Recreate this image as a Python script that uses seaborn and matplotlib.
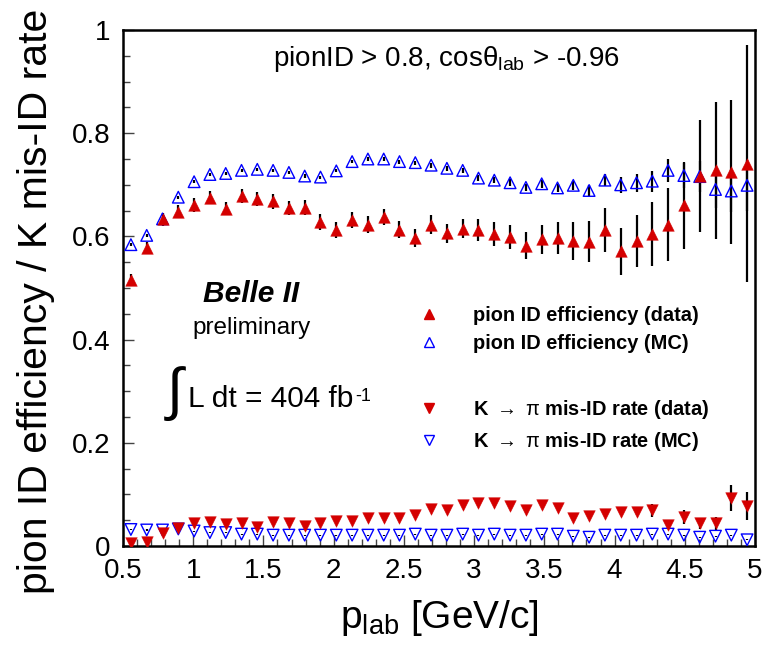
import numpy as np
import pandas as pd
import matplotlib
matplotlib.use("Agg")
import matplotlib.pyplot as plt
import seaborn as sns
from matplotlib.lines import Line2D
from matplotlib.ticker import MultipleLocator

# ---------------- data ----------------
p_lab = [0.55625, 0.66875, 0.78125, 0.89375, 1.00625, 1.11875, 1.23125, 1.34375,
         1.45625, 1.56875, 1.68125, 1.79375, 1.90625, 2.01875, 2.13125, 2.24375,
         2.35625, 2.46875, 2.58125, 2.69375, 2.80625, 2.91875, 3.03125, 3.14375,
         3.25625, 3.36875, 3.48125, 3.59375, 3.70625, 3.81875, 3.93125, 4.04375,
         4.15625, 4.26875, 4.38125, 4.49375, 4.60625, 4.71875, 4.83125, 4.94375]

eff_data = [0.516, 0.578, 0.633, 0.648, 0.661, 0.675, 0.654, 0.678, 0.672, 0.668,
            0.655, 0.656, 0.628, 0.612, 0.632, 0.623, 0.638, 0.613, 0.597, 0.623,
            0.606, 0.615, 0.612, 0.604, 0.599, 0.582, 0.594, 0.597, 0.591, 0.590,
            0.612, 0.571, 0.591, 0.604, 0.623, 0.660, 0.717, 0.728, 0.725, 0.741]
eff_data_err = [0.012, 0.012, 0.013, 0.013, 0.013, 0.013, 0.013, 0.014, 0.014, 0.014,
                0.014, 0.015, 0.015, 0.015, 0.016, 0.016, 0.016, 0.017, 0.017, 0.018,
                0.018, 0.019, 0.021, 0.023, 0.024, 0.026, 0.029, 0.031, 0.036, 0.039,
                0.043, 0.046, 0.050, 0.062, 0.071, 0.085, 0.109, 0.133, 0.140, 0.229]

eff_mc = [0.584, 0.602, 0.634, 0.676, 0.706, 0.720, 0.722, 0.728, 0.730, 0.728,
          0.724, 0.717, 0.715, 0.727, 0.745, 0.750, 0.750, 0.745, 0.743, 0.738,
          0.732, 0.728, 0.713, 0.709, 0.704, 0.695, 0.702, 0.694, 0.699, 0.689,
          0.709, 0.700, 0.704, 0.707, 0.728, 0.718, 0.716, 0.691, 0.688, 0.699]
eff_mc_err = [0.003, 0.003, 0.003, 0.003, 0.003, 0.003, 0.003, 0.003, 0.003, 0.003,
              0.003, 0.003, 0.003, 0.003, 0.003, 0.004, 0.004, 0.004, 0.004, 0.005,
              0.005, 0.005, 0.006, 0.006, 0.007, 0.007, 0.008, 0.008, 0.009, 0.010,
              0.011, 0.015, 0.017, 0.020, 0.022, 0.025, 0.030, 0.035, 0.040, 0.050]

misid_data = [0.006, 0.008, 0.025, 0.034, 0.045, 0.047, 0.042, 0.045, 0.036, 0.047,
              0.044, 0.038, 0.044, 0.049, 0.049, 0.054, 0.054, 0.054, 0.060, 0.071,
              0.069, 0.080, 0.083, 0.083, 0.078, 0.070, 0.080, 0.073, 0.055, 0.058,
              0.062, 0.066, 0.066, 0.069, 0.041, 0.056, 0.044, 0.044, 0.093, 0.078]
misid_data_err = [0.002, 0.002, 0.002, 0.002, 0.002, 0.002, 0.002, 0.002, 0.002, 0.002,
                  0.002, 0.002, 0.002, 0.002, 0.002, 0.002, 0.002, 0.002, 0.002, 0.002,
                  0.002, 0.002, 0.002, 0.002, 0.002, 0.002, 0.002, 0.002, 0.003, 0.003,
                  0.003, 0.004, 0.006, 0.012, 0.006, 0.014, 0.011, 0.013, 0.025, 0.027]

misid_mc = [0.032, 0.031, 0.031, 0.033, 0.029, 0.026, 0.026, 0.023, 0.023, 0.021,
            0.021, 0.021, 0.021, 0.021, 0.021, 0.021, 0.021, 0.021, 0.023, 0.021,
            0.021, 0.023, 0.021, 0.023, 0.021, 0.021, 0.023, 0.023, 0.019, 0.017,
            0.021, 0.021, 0.021, 0.023, 0.023, 0.021, 0.017, 0.019, 0.021, 0.012]
misid_mc_err = [0.001] * 40

x_ticks = [0.5, 1, 1.5, 2, 2.5, 3, 3.5, 4, 4.5, 5]
x_ticklabels = ["0.5", "1", "1.5", "2", "2.5", "3", "3.5", "4", "4.5", "5"]
y_ticks = [0, 0.2, 0.4, 0.6, 0.8, 1.0]
y_ticklabels = ["0", "0.2", "0.4", "0.6", "0.8", "1"]

labels = ["pion ID efficiency (data)", "pion ID efficiency (MC)",
          r"K $\rightarrow$ $\mathrm{\pi}$ mis-ID rate (data)",
          r"K $\rightarrow$ $\mathrm{\pi}$ mis-ID rate (MC)"]

# ---------------- style ----------------
sns.set_theme(style="ticks")
plt.rcParams["font.family"] = ["Liberation Sans", "DejaVu Sans"]
plt.rcParams["mathtext.fontset"] = "custom"
plt.rcParams["mathtext.rm"] = "Liberation Sans"
plt.rcParams["mathtext.it"] = "Liberation Sans:italic"
plt.rcParams["mathtext.bf"] = "Liberation Sans:bold"
plt.rcParams["text.color"] = "black"
plt.rcParams["axes.labelcolor"] = "black"

RED = "#d40000"
BLUE = "#0000ff"

df = pd.DataFrame({"p": p_lab, "eff_data": eff_data, "eff_data_err": eff_data_err,
                   "eff_mc": eff_mc, "eff_mc_err": eff_mc_err,
                   "misid_data": misid_data, "misid_data_err": misid_data_err,
                   "misid_mc": misid_mc, "misid_mc_err": misid_mc_err})

fig = plt.figure(figsize=(7.67, 6.51), dpi=100)
ax = fig.add_axes([123 / 767, 1 - 546 / 651, (755 - 123) / 767, (546 - 30) / 651])

# error bars (black)
for col in ["eff_mc", "misid_mc", "eff_data", "misid_data"]:
    ax.errorbar(df["p"], df[col], yerr=df[col + "_err"], fmt="none",
                ecolor="black", elinewidth=1.6, capsize=0, zorder=2)

ms = 70
sns.scatterplot(data=df, x="p", y="eff_mc", marker="^", s=ms, facecolors="none",
                edgecolor=BLUE, linewidth=1.0, ax=ax, zorder=3)
sns.scatterplot(data=df, x="p", y="misid_mc", marker="v", s=ms, facecolors="none",
                edgecolor=BLUE, linewidth=1.0, ax=ax, zorder=3)
sns.scatterplot(data=df, x="p", y="eff_data", marker="^", s=ms, color=RED,
                edgecolor=RED, linewidth=0.3, ax=ax, zorder=4)
sns.scatterplot(data=df, x="p", y="misid_data", marker="v", s=ms, color=RED,
                edgecolor=RED, linewidth=0.3, ax=ax, zorder=4)

ax.set_xlim(0.5, 5.0)
ax.set_ylim(0, 1.0)
ax.set_xticks(x_ticks)
ax.set_xticklabels(x_ticklabels)
ax.set_yticks(y_ticks)
ax.set_yticklabels(y_ticklabels)
ax.xaxis.set_minor_locator(MultipleLocator(0.1))
ax.yaxis.set_minor_locator(MultipleLocator(0.05))
ax.tick_params(axis="both", which="both", direction="in", colors="#444444",
               labelcolor="black", labelsize=20, width=1.0)
ax.tick_params(axis="both", which="major", length=8)
ax.tick_params(axis="both", which="minor", length=5)
ax.tick_params(axis="x", which="major", pad=9)
ax.tick_params(axis="y", which="major", pad=9)
for sp in ax.spines.values():
    sp.set_visible(True)
    sp.set_linewidth(1.8)
    sp.set_color("black")

ax.set_xlabel(r"$\mathrm{p_{lab}}$ [GeV/c]", fontsize=28, color="black")
ax.xaxis.set_label_coords(0.5, -0.100)
ax.set_ylabel("pion ID efficiency / K mis-ID rate", fontsize=29.5, color="black")
ax.yaxis.set_label_coords(-0.107, 0.475)

# annotations
ax.text(0.512, 0.972, r"pionID > 0.8, cos$\mathrm{\theta_{lab}}$ > -0.96",
        transform=ax.transAxes, ha="center", va="top", fontsize=20, color="black")
ax.text(0.203, 0.488, "Belle II", transform=ax.transAxes, ha="center", va="center",
        fontsize=21.5, fontweight="bold", fontstyle="italic", color="black")
ax.text(0.203, 0.422, "preliminary", transform=ax.transAxes, ha="center",
        va="center", fontsize=17.5, color="black")
ax.text(0.082, 0.296, "\u222b", transform=ax.transAxes, ha="center", va="center",
        fontsize=42, family=["Liberation Sans", "DejaVu Sans"], color="black")
t_lum = ax.text(0.103, 0.269, "L dt = 404 fb", transform=ax.transAxes,
                ha="left", va="baseline", fontsize=21.5, color="black")
ax.annotate("-1", xy=(1.0, 1.0), xycoords=t_lum, xytext=(1, -2),
            textcoords="offset points", ha="left", va="top", fontsize=13,
            color="black")

# legends
h_eff_data = Line2D([], [], ls="none", marker="^", ms=7, mfc=RED, mec=RED)
h_eff_mc = Line2D([], [], ls="none", marker="^", ms=7, mfc="none", mec=BLUE, mew=1.0)
h_mis_data = Line2D([], [], ls="none", marker="v", ms=7, mfc=RED, mec=RED)
h_mis_mc = Line2D([], [], ls="none", marker="v", ms=7, mfc="none", mec=BLUE, mew=1.0)

leg_kw = dict(frameon=False, handlelength=0.8, handletextpad=1.8, labelspacing=0.45,
              borderpad=0, borderaxespad=0, loc="upper left", labelcolor="black",
              prop={"weight": "bold", "size": 14.4})
leg1 = ax.legend([h_eff_data, h_eff_mc], labels[:2],
                 bbox_to_anchor=(0.4715, 0.465), **leg_kw)
ax.add_artist(leg1)
leg2 = ax.legend([h_mis_data, h_mis_mc], labels[2:],
                 bbox_to_anchor=(0.4715, 0.287), **leg_kw)

fig.savefig("out.png", dpi=100)
